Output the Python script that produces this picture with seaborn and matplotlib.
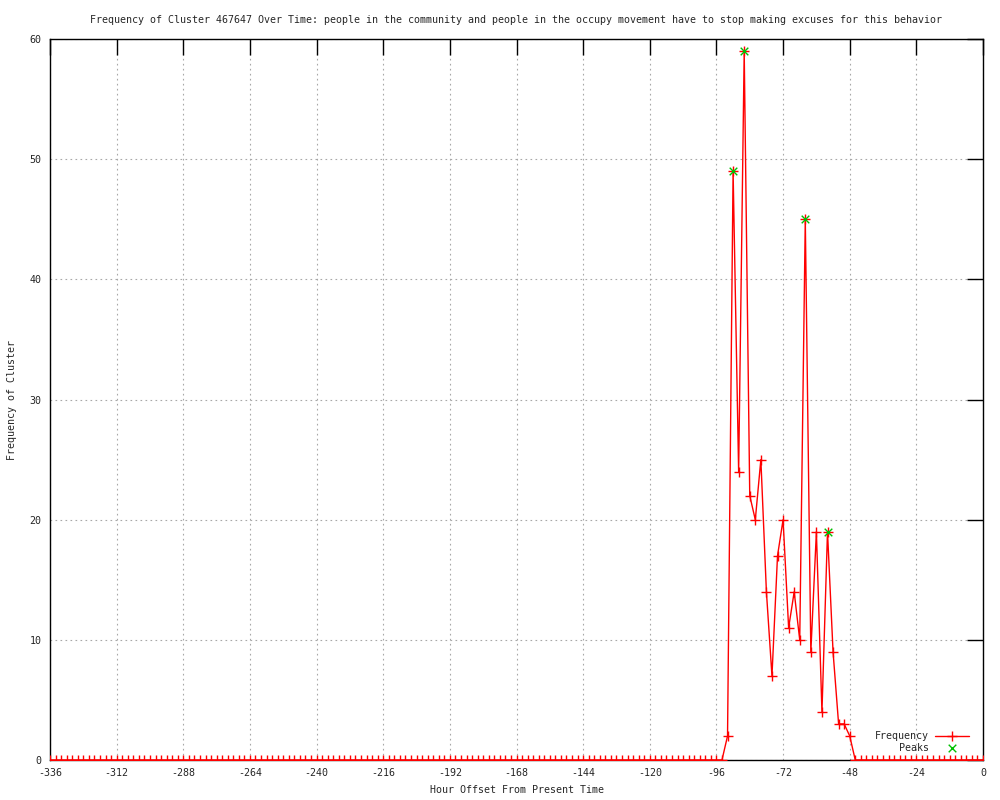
import matplotlib
matplotlib.use("Agg")
import matplotlib.pyplot as plt
import seaborn as sns
import pandas as pd

# hourly offsets (every 2 hours) and cluster frequency
hours = list(range(-336, 1, 2))
freq = [
    0, 0, 0, 0, 0, 0, 0, 0, 0, 0, 0, 0, 0, 0, 0, 0, 0, 0, 0, 0,
    0, 0, 0, 0, 0, 0, 0, 0, 0, 0, 0, 0, 0, 0, 0, 0, 0, 0, 0, 0,
    0, 0, 0, 0, 0, 0, 0, 0, 0, 0, 0, 0, 0, 0, 0, 0, 0, 0, 0, 0,
    0, 0, 0, 0, 0, 0, 0, 0, 0, 0, 0, 0, 0, 0, 0, 0, 0, 0, 0, 0,
    0, 0, 0, 0, 0, 0, 0, 0, 0, 0, 0, 0, 0, 0, 0, 0, 0, 0, 0, 0,
    0, 0, 0, 0, 0, 0, 0, 0, 0, 0, 0, 0, 0, 0, 0, 0, 0, 0, 0, 0,
    0, 0,
    2, 49, 24, 59, 22, 20, 25, 14, 7, 17, 20, 11, 14, 10, 45, 9,
    19, 4, 19, 9, 3, 3, 2,
    0, 0, 0, 0, 0, 0, 0, 0, 0, 0, 0, 0, 0, 0, 0, 0, 0, 0, 0, 0,
    0, 0, 0, 0,
]

peak_hours = [-90, -86, -64, -56]
peak_values = [49, 59, 45, 19]

x_ticks = list(range(-336, 1, 24))
y_ticks = list(range(0, 61, 10))

title = ("Frequency of Cluster 467647 Over Time: people in the community and "
         "people in the occupy movement have to stop making excuses for this behavior")

sns.set_style("white")
plt.rcParams["font.family"] = ["DejaVu Sans Mono"]
plt.rcParams["axes.unicode_minus"] = False
FS = 7.2

df = pd.DataFrame({"hour": hours, "freq": freq})
peaks = pd.DataFrame({"hour": peak_hours, "freq": peak_values})

fig, ax = plt.subplots(figsize=(10, 8), dpi=100)
fig.subplots_adjust(left=0.05, right=0.983, top=0.951, bottom=0.05)

sns.lineplot(data=df, x="hour", y="freq", ax=ax, color="#ff0000", linewidth=1,
             marker="+", markersize=7, markeredgewidth=1,
             markeredgecolor="#ff0000", label="Frequency", zorder=3)
sns.scatterplot(data=peaks, x="hour", y="freq", ax=ax, marker="x", s=30,
                color="#00c000", linewidth=1, label="Peaks", zorder=4)

ax.set_xlim(-336, 0)
ax.set_ylim(0, 60)
ax.set_xticks(x_ticks)
ax.set_yticks(y_ticks)
ax.tick_params(direction="in", length=11.5, width=1, color="black",
               top=True, right=True, labelsize=FS, pad=6)
ax.grid(True, color="#a8a8a8", linestyle=(0, (1.5, 3)), linewidth=0.8)
for sp in ax.spines.values():
    sp.set_color("black")
    sp.set_linewidth(1)

ax.set_title(title, fontsize=FS, pad=12)
ax.set_xlabel("Hour Offset From Present Time", fontsize=FS, labelpad=5)
ax.set_ylabel("Frequency of Cluster", fontsize=FS, labelpad=9)

ax.legend(loc="lower right", bbox_to_anchor=(0.992, 0.0), frameon=False,
          markerfirst=False, fontsize=FS, handlelength=3.4,
          handletextpad=0.6, labelspacing=0.2, borderaxespad=0.3)

fig.savefig("out.png", dpi=100)
